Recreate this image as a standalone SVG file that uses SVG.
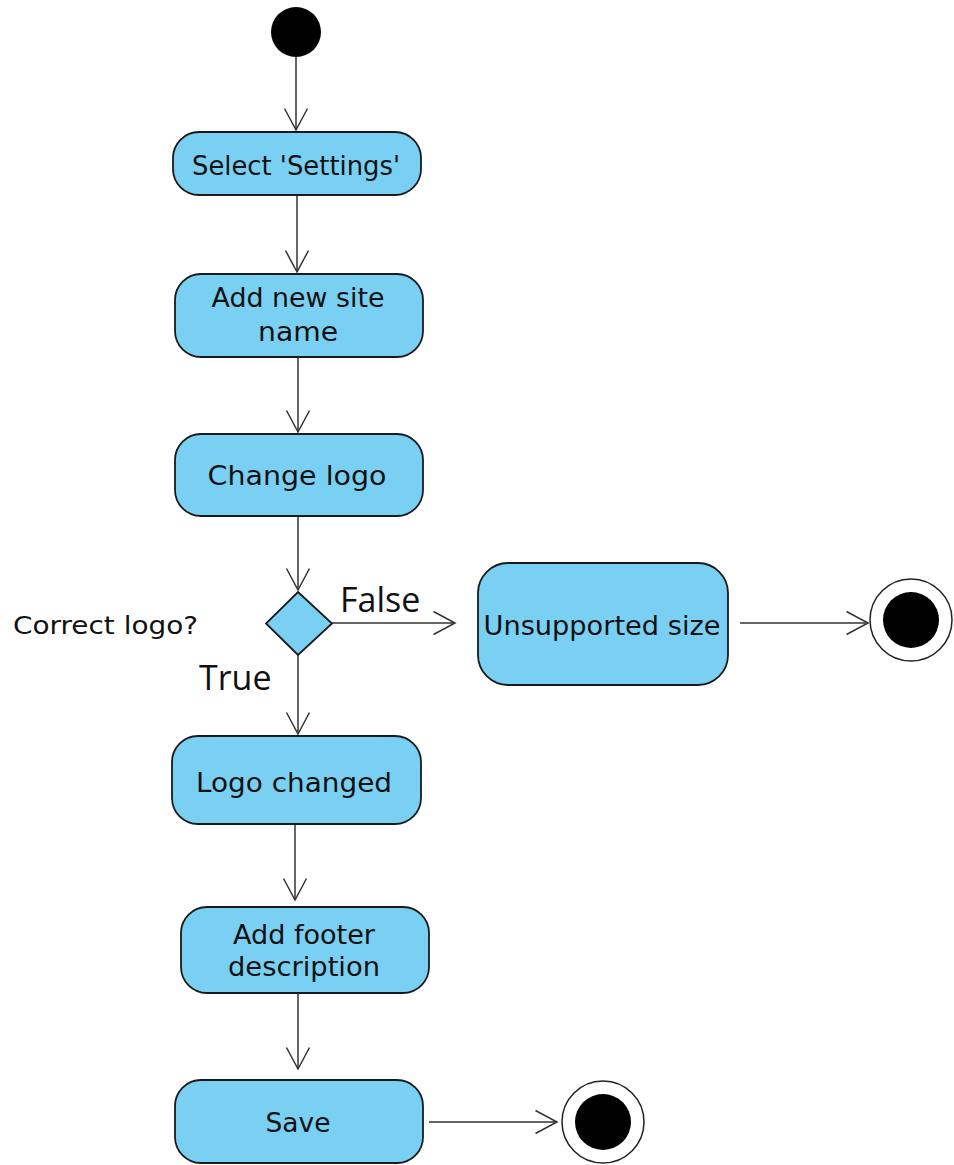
<svg xmlns="http://www.w3.org/2000/svg" width="954" height="1165" viewBox="0 0 954 1165">
<defs>
<style>
.box{fill:#7AD0F3;stroke:#1a1a1a;stroke-width:1.8}
.lbl{font-family:"DejaVu Sans","Noto Sans",sans-serif;font-size:26px;fill:#111;text-anchor:middle}
.big{font-family:"Open Sans","Noto Sans",sans-serif;font-size:34px;fill:#111}
.edge{stroke:#333;stroke-width:1.5;fill:none}
</style>
<marker id="arr" markerUnits="userSpaceOnUse" markerWidth="26" markerHeight="26" refX="22" refY="12" orient="auto" viewBox="0 0 26 24">
<polyline points="0.5,0.5 22,12 0.5,23.5" fill="none" stroke="#333" stroke-width="1.5"/>
</marker>
</defs>
<rect width="954" height="1165" fill="#fff"/>
<g id="connectors">
<line class="edge" x1="296" y1="57" x2="296" y2="130" marker-end="url(#arr)"/>
<line class="edge" x1="297" y1="195" x2="297" y2="272" marker-end="url(#arr)"/>
<line class="edge" x1="298" y1="357" x2="298" y2="432" marker-end="url(#arr)"/>
<line class="edge" x1="298" y1="516" x2="298" y2="590" marker-end="url(#arr)"/>
<line class="edge" x1="332" y1="623" x2="455" y2="623" marker-end="url(#arr)"/>
<line class="edge" x1="298" y1="655" x2="298" y2="734" marker-end="url(#arr)"/>
<line class="edge" x1="295" y1="824" x2="295" y2="900" marker-end="url(#arr)"/>
<line class="edge" x1="298" y1="993" x2="298" y2="1069" marker-end="url(#arr)"/>
<line class="edge" x1="740" y1="623" x2="868" y2="623" marker-end="url(#arr)"/>
<line class="edge" x1="429" y1="1122" x2="557" y2="1122" marker-end="url(#arr)"/>
</g>
<g id="start"><circle cx="296" cy="32" r="25" fill="#000"/></g>
<g id="select-settings">
<rect class="box" x="173" y="132" width="248" height="63" rx="26"/>
<text class="lbl" x="296" y="175" textLength="208" lengthAdjust="spacingAndGlyphs">Select 'Settings'</text>
</g>
<g id="add-site-name">
<rect class="box" x="175" y="274" width="248" height="83" rx="26"/>
<text class="lbl" x="298" y="307" textLength="173" lengthAdjust="spacingAndGlyphs">Add new site</text>
<text class="lbl" x="298" y="341" textLength="80" lengthAdjust="spacingAndGlyphs">name</text>
</g>
<g id="change-logo">
<rect class="box" x="175" y="434" width="248" height="82" rx="26"/>
<text class="lbl" x="297" y="485" textLength="179" lengthAdjust="spacingAndGlyphs">Change logo</text>
</g>
<g id="decision">
<polygon class="box" points="298,592 332,623.5 298,655 266,623.5"/>
<text x="13" y="634" font-family="DejaVu Sans, Noto Sans, sans-serif" font-size="24" fill="#111" textLength="185" lengthAdjust="spacingAndGlyphs">Correct logo?</text>
<text class="big" x="340" y="612">False</text>
<text class="big" x="199" y="690">True</text>
</g>
<g id="unsupported-size">
<rect class="box" x="478" y="563" width="250" height="122" rx="30"/>
<text class="lbl" x="602" y="635" textLength="237" lengthAdjust="spacingAndGlyphs">Unsupported size</text>
</g>
<g id="end-1">
<circle cx="911" cy="620" r="41" fill="#fff" stroke="#222" stroke-width="1.5"/>
<circle cx="911" cy="620" r="28" fill="#000"/>
</g>
<g id="logo-changed">
<rect class="box" x="172" y="736" width="249" height="88" rx="26"/>
<text class="lbl" x="294" y="792" textLength="196" lengthAdjust="spacingAndGlyphs">Logo changed</text>
</g>
<g id="add-footer">
<rect class="box" x="181" y="907" width="248" height="86" rx="26"/>
<text class="lbl" x="304" y="944" textLength="142" lengthAdjust="spacingAndGlyphs">Add footer</text>
<text class="lbl" x="304" y="976" textLength="152" lengthAdjust="spacingAndGlyphs">description</text>
</g>
<g id="save">
<rect class="box" x="175" y="1080" width="248" height="83" rx="26"/>
<text class="lbl" x="298" y="1132" textLength="65" lengthAdjust="spacingAndGlyphs">Save</text>
</g>
<g id="end-2">
<circle cx="603" cy="1122" r="41" fill="#fff" stroke="#222" stroke-width="1.5"/>
<circle cx="603" cy="1122" r="28" fill="#000"/>
</g>
</svg>
